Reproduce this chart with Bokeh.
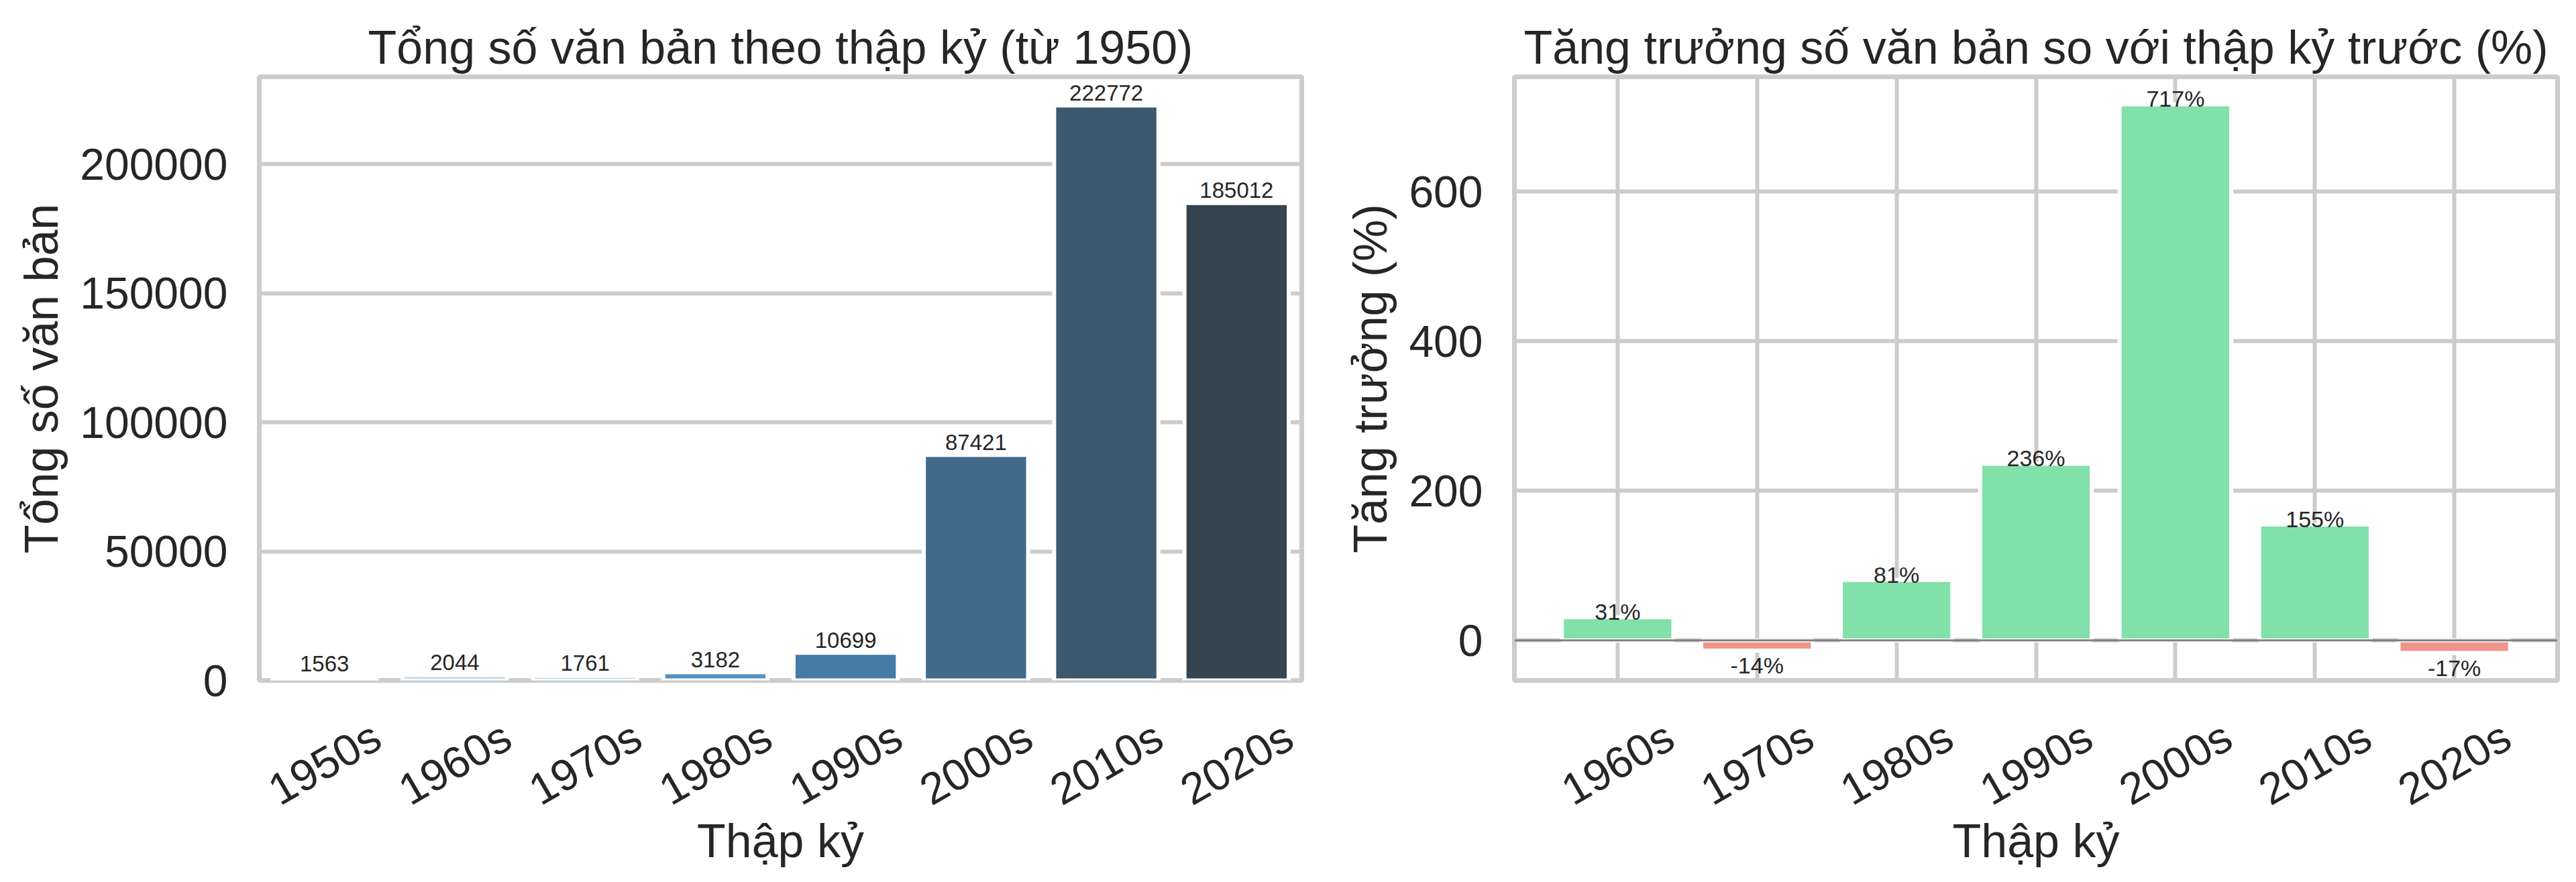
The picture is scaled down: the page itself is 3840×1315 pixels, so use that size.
import math
from bokeh.plotting import figure
from bokeh.models import Range1d, FixedTicker, NumeralTickFormatter, Span
from bokeh.layouts import row, column
from bokeh.embed import file_html
from bokeh.resources import INLINE
from bokeh.core.properties import value

# ---------------- data ----------------
decades = ["1950s", "1960s", "1970s", "1980s", "1990s", "2000s", "2010s", "2020s"]
totals = [1563, 2044, 1761, 3182, 10699, 87421, 222772, 185012]
total_colors = ["#c6dcee", "#a9cbe3", "#7fb2d8", "#5592c2", "#467ba5", "#426a88", "#3d586d", "#36444f"]

growth_decades = ["1960s", "1970s", "1980s", "1990s", "2000s", "2010s", "2020s"]
growth_pct = [30.8, -13.8, 80.7, 236.2, 717.1, 154.8, -17.0]

left_yticks = [0, 50000, 100000, 150000, 200000]
right_yticks = [0, 200, 400, 600]

POS_COLOR = "#82E0AA"
NEG_COLOR = "#F1948A"

FONT = "Liberation Sans"
TXT = "#262626"
GRID = "#cccccc"

TOP_H = 1054      # chart figure height (frame ends at 1014, room for the "0" label)
LBL_H = 253       # height of the tick-label / axis-label strip below


def style_chart(p, title_text, ylabel):
    p.title.text = title_text
    p.title.text_font = FONT
    p.title.text_font_size = "70px"
    p.title.text_font_style = "normal"
    p.title.text_color = TXT
    p.title.align = "center"
    p.title.standoff = 10
    p.outline_line_color = GRID
    p.outline_line_width = 7
    p.background_fill_color = "white"
    p.border_fill_color = "white"
    ax = p.yaxis[0]
    ax.axis_label = ylabel
    ax.axis_line_color = None
    ax.major_tick_line_color = None
    ax.minor_tick_line_color = None
    ax.major_tick_in = 0
    ax.major_tick_out = 0
    ax.major_label_text_font = FONT
    ax.major_label_text_font_size = "66px"
    ax.major_label_text_color = TXT
    ax.major_label_standoff = 47
    ax.axis_label_text_font = FONT
    ax.axis_label_text_font_size = "70px"
    ax.axis_label_text_font_style = "normal"
    ax.axis_label_text_color = TXT
    ax.axis_label_standoff = 15
    p.ygrid.grid_line_color = GRID
    p.ygrid.grid_line_width = 6


def label_strip(x_range, width, bl, br, positions, factors):
    """Rotated, centred category labels + the x-axis title, under a chart."""
    s = figure(width=width, height=LBL_H, x_range=x_range, y_range=Range1d(0, 1),
               output_backend="svg", toolbar_location=None, y_axis_location=None,
               min_border_left=bl, min_border_right=br, min_border_top=0,
               min_border_bottom=107)
    s.outline_line_color = None
    s.xgrid.grid_line_color = None
    s.ygrid.grid_line_color = None
    s.background_fill_color = "white"
    s.border_fill_color = "white"
    ax = s.xaxis[0]
    ax.ticker = FixedTicker(ticks=[])
    ax.axis_line_color = None
    ax.major_tick_line_color = None
    ax.minor_tick_line_color = None
    ax.major_label_standoff = 0
    ax.axis_label = "Thập kỷ"
    ax.axis_label_text_font = FONT
    ax.axis_label_text_font_size = "70px"
    ax.axis_label_text_font_style = "normal"
    ax.axis_label_text_color = TXT
    ax.axis_label_standoff = 14
    s.text(x=positions, y=[1] * len(positions), text=factors, angle=math.pi / 6,
           y_offset=83, text_align="center", text_baseline="middle",
           text_font=value(FONT), text_font_size="66px", text_color=TXT)
    return s


# ---------------- left chart ----------------
xl = list(range(len(decades)))
p1 = figure(
    width=1990, height=TOP_H,
    x_range=Range1d(-0.5, len(decades) - 0.5),
    y_range=Range1d(0, max(totals) * 1.05),
    output_backend="svg", toolbar_location=None, x_axis_location=None,
    min_border_left=386, min_border_right=50, min_border_top=114, min_border_bottom=40,
)
style_chart(p1, "Tổng số văn bản theo thập kỷ (từ 1950)", "Tổng số văn bản")
p1.xgrid.grid_line_color = None
p1.yaxis[0].ticker = FixedTicker(ticks=left_yticks)
p1.yaxis[0].formatter = NumeralTickFormatter(format="0")
p1.ygrid.ticker = FixedTicker(ticks=left_yticks)

p1.vbar(x=xl, top=totals, bottom=0, width=0.8, fill_color=total_colors,
        line_color="white", line_width=6)
p1.text(x=xl, y=totals, text=[str(v) for v in totals], y_offset=-19,
        text_align="center", text_baseline="alphabetic",
        text_font=value(FONT), text_font_size="33px", text_color=TXT)
s1 = label_strip(p1.x_range, 1990, 386, 50, xl, decades)

# ---------------- right chart ----------------
xr = list(range(len(growth_decades)))
gmin, gmax = min(growth_pct), max(growth_pct)
gspan = gmax - gmin
xpad = 0.05 * (len(growth_decades) - 1 + 0.8)
p2 = figure(
    width=1842, height=TOP_H,
    x_range=Range1d(-0.4 - xpad, len(growth_decades) - 1 + 0.4 + xpad),
    y_range=Range1d(gmin - 0.05 * gspan, gmax + 0.05 * gspan),
    output_backend="svg", toolbar_location=None, x_axis_location=None,
    min_border_left=267, min_border_right=20, min_border_top=114, min_border_bottom=40,
)
style_chart(p2, "Tăng trưởng số văn bản so với thập kỷ trước (%)", "Tăng trưởng (%)")
p2.xgrid.ticker = FixedTicker(ticks=xr)
p2.xgrid.grid_line_color = GRID
p2.xgrid.grid_line_width = 6
p2.yaxis[0].ticker = FixedTicker(ticks=right_yticks)
p2.ygrid.ticker = FixedTicker(ticks=right_yticks)

gcolors = [POS_COLOR if v >= 0 else NEG_COLOR for v in growth_pct]
p2.vbar(x=xr, top=growth_pct, bottom=0, width=0.8, fill_color=gcolors,
        line_color="white", line_width=6)
p2.add_layout(Span(location=0, dimension="width", line_color="#808080", line_width=3))

pos_x = [i for i, v in zip(xr, growth_pct) if v >= 0]
pos_v = [v for v in growth_pct if v >= 0]
neg_x = [i for i, v in zip(xr, growth_pct) if v < 0]
neg_v = [v for v in growth_pct if v < 0]
p2.text(x=pos_x, y=pos_v, text=[f"{v:.0f}%" for v in pos_v], y_offset=-8,
        text_align="center", text_baseline="alphabetic",
        text_font=value(FONT), text_font_size="34px", text_color=TXT)
p2.text(x=neg_x, y=neg_v, text=[f"{v:.0f}%" for v in neg_v], y_offset=22,
        text_align="center", text_baseline="alphabetic",
        text_font=value(FONT), text_font_size="34px", text_color=TXT)
s2 = label_strip(p2.x_range, 1842, 267, 20, xr, growth_decades)

layout = row(column(p1, s1), column(p2, s2))
with open("out.html", "w", encoding="utf-8") as f:
    f.write(file_html(layout, INLINE))
